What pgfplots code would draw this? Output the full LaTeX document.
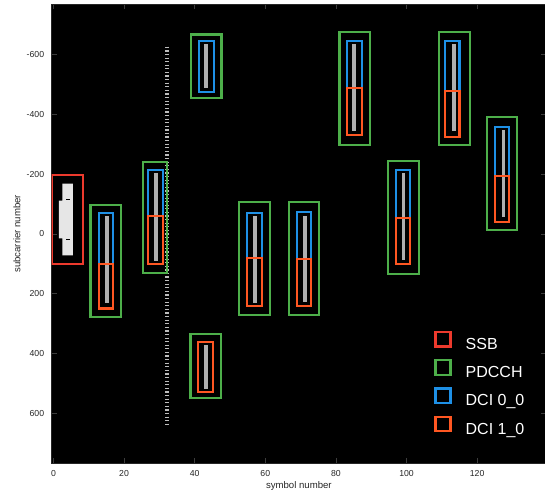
\documentclass[border=0pt]{standalone}
\usepackage{pgfplots}
\pgfplotsset{compat=1.18}
\usepackage{fontspec}
\setmainfont{Liberation Sans}
\definecolor{ssbred}{RGB}{237,58,45}
\definecolor{pgreen}{RGB}{77,175,74}
\definecolor{dblue}{RGB}{30,144,230}
\definecolor{dorange}{RGB}{255,87,34}
\definecolor{bargray}{RGB}{175,175,175}
\definecolor{ssbwhite}{RGB}{230,230,230}
\definecolor{dotgray}{RGB}{190,190,190}
\definecolor{labgray}{RGB}{38,38,38}
\definecolor{tickgray}{RGB}{60,60,60}
\begin{document}
\begin{tikzpicture}
\begin{axis}[
  at={(0pt,0pt)}, anchor=south west,
  scale only axis, width=494.3pt, height=459pt,
  xmin=-0.5, xmax=139.5, ymin=-768, ymax=768, y dir=reverse,
  axis background/.style={fill=black},
  xtick={0,20,...,120}, ytick={-600,-400,...,600},
  tick align=inside, major tick length=5pt,
  tick style={color=tickgray, line width=0.5pt},
  axis line style={color=labgray, line width=0.6pt},
  tick label style={font=\fontsize{8.7}{10}\selectfont, text=labgray},
  yticklabel style={inner sep=0pt, xshift=-7.4pt},
  xticklabel style={inner sep=0pt, yshift=-6.5pt},
  /pgf/number format/assume math mode=true,
  xlabel={symbol number}, ylabel={subcarrier number},
  label style={font=\fontsize{9.6}{11}\selectfont, text=labgray},
  xlabel style={at={(axis description cs:0.5,-0.0501)}, anchor=center},
  ylabel style={at={(axis description cs:-0.0702,0.5)}, anchor=center},
  legend image code/.code={\draw[#1, line width=2.2pt] (0pt,-1.5pt) rectangle (15pt,13pt);},
  legend style={at={(0.7744,0.2885)}, anchor=north west, draw=none, fill=none,
    inner sep=0pt, outer sep=0pt, row sep=7.3pt,
    font=\fontsize{16}{19}\selectfont, text=white,
    nodes={inner sep=0pt, text depth=2.6pt},
    /tikz/every odd column/.append style={column sep=14pt}},
  legend cell align=left,
  line join=miter,
]
% SSB
\addplot[fill=ssbwhite, draw=none, forget plot] coordinates {(2.5,-168) (5.5,-168) (5.5,72) (2.5,72) (2.5,15) (1.5,15) (1.5,-111) (2.5,-111)} -- cycle;
\addplot[fill=black, draw=none, forget plot] coordinates {(3.6,-118) (4.6,-118) (4.6,-112) (3.6,-112)} -- cycle;
\addplot[fill=black, draw=none, forget plot] coordinates {(3.6,16) (4.6,16) (4.6,22) (3.6,22)} -- cycle;
% dotted column
\addplot[draw=dotgray, line width=3.5pt, dash pattern=on 1.2pt off 2.39pt, forget plot] coordinates {(32.1,-626) (32.1,638)};
% gray bars
\addplot[fill=bargray, draw=none, forget plot] coordinates {(14.7,-59) (15.7,-59) (15.7,230) (14.7,230)} -- cycle;
\addplot[fill=bargray, draw=none, forget plot] coordinates {(28.5,-202) (29.6,-202) (29.6,90) (28.5,90)} -- cycle;
\addplot[fill=bargray, draw=none, forget plot] coordinates {(42.6,-634) (43.7,-634) (43.7,-487) (42.6,-487)} -- cycle;
\addplot[fill=bargray, draw=none, forget plot] coordinates {(42.6,373) (43.7,373) (43.7,519) (42.6,519)} -- cycle;
\addplot[fill=bargray, draw=none, forget plot] coordinates {(56.5,-58) (57.6,-58) (57.6,230) (56.5,230)} -- cycle;
\addplot[fill=bargray, draw=none, forget plot] coordinates {(70.6,-58) (71.7,-58) (71.7,229) (70.6,229)} -- cycle;
\addplot[fill=bargray, draw=none, forget plot] coordinates {(84.6,-634) (85.7,-634) (85.7,-345) (84.6,-345)} -- cycle;
\addplot[fill=bargray, draw=none, forget plot] coordinates {(98.6,-204) (99.7,-204) (99.7,86) (98.6,86)} -- cycle;
\addplot[fill=bargray, draw=none, forget plot] coordinates {(112.9,-635) (114.0,-635) (114.0,-345) (112.9,-345)} -- cycle;
\addplot[fill=bargray, draw=none, forget plot] coordinates {(126.9,-346) (128.0,-346) (128.0,-57) (126.9,-57)} -- cycle;
% SSB box
\addplot[draw=ssbred, line width=2.1pt, forget plot] coordinates {(-0.3,-197) (8.3,-197) (8.3,101) (-0.3,101)} -- cycle;
% PDCCH boxes
\addplot[draw=pgreen, line width=2.1pt, forget plot] coordinates {(10.5,-97) (19.2,-97) (19.2,278) (10.5,278)} -- cycle;
\addplot[draw=pgreen, line width=2.1pt, forget plot] coordinates {(25.4,-241) (32.1,-241) (32.1,131) (25.4,131)} -- cycle;
\addplot[draw=pgreen, line width=2.1pt, forget plot] coordinates {(38.9,-667) (47.6,-667) (47.6,-454) (38.9,-454)} -- cycle;
\addplot[draw=pgreen, line width=2.1pt, forget plot] coordinates {(38.8,335) (47.5,335) (47.5,548) (38.8,548)} -- cycle;
\addplot[draw=pgreen, line width=2.1pt, forget plot] coordinates {(52.5,-105) (61.3,-105) (61.3,273) (52.5,273)} -- cycle;
\addplot[draw=pgreen, line width=2.1pt, forget plot] coordinates {(66.6,-105) (75.1,-105) (75.1,273) (66.6,273)} -- cycle;
\addplot[draw=pgreen, line width=2.1pt, forget plot] coordinates {(81.0,-674) (89.7,-674) (89.7,-298) (81.0,-298)} -- cycle;
\addplot[draw=pgreen, line width=2.1pt, forget plot] coordinates {(94.8,-244) (103.6,-244) (103.6,134) (94.8,134)} -- cycle;
\addplot[draw=pgreen, line width=2.1pt, forget plot] coordinates {(109.2,-674) (117.9,-674) (117.9,-298) (109.2,-298)} -- cycle;
\addplot[draw=pgreen, line width=2.1pt, forget plot] coordinates {(122.9,-391) (131.4,-391) (131.4,-14) (122.9,-14)} -- cycle;
% DCI 0_0 boxes
\addplot[draw=dblue, line width=2.1pt, forget plot] coordinates {(13.0,-70) (16.9,-70) (16.9,101) (13.0,101)} -- cycle;
\addplot[draw=dblue, line width=2.1pt, forget plot] coordinates {(26.9,-215) (31.0,-215) (31.0,-60) (26.9,-60)} -- cycle;
\addplot[draw=dblue, line width=2.1pt, forget plot] coordinates {(41.3,-645) (45.4,-645) (45.4,-474) (41.3,-474)} -- cycle;
\addplot[draw=dblue, line width=2.1pt, forget plot] coordinates {(54.9,-69) (59.0,-69) (59.0,80) (54.9,80)} -- cycle;
\addplot[draw=dblue, line width=2.1pt, forget plot] coordinates {(69.1,-72) (73.0,-72) (73.0,85) (69.1,85)} -- cycle;
\addplot[draw=dblue, line width=2.1pt, forget plot] coordinates {(83.2,-644) (87.3,-644) (87.3,-489) (83.2,-489)} -- cycle;
\addplot[draw=dblue, line width=2.1pt, forget plot] coordinates {(97.0,-215) (100.9,-215) (100.9,-52) (97.0,-52)} -- cycle;
\addplot[draw=dblue, line width=2.1pt, forget plot] coordinates {(111.0,-646) (115.0,-646) (115.0,-478) (111.0,-478)} -- cycle;
\addplot[draw=dblue, line width=2.1pt, forget plot] coordinates {(125.0,-358) (129.1,-358) (129.1,-194) (125.0,-194)} -- cycle;
% DCI 1_0 boxes
\addplot[draw=dorange, line width=2.1pt, forget plot] coordinates {(13.0,101) (16.9,101) (16.9,250) (13.0,250)} -- cycle;
\addplot[draw=dorange, line width=2.1pt, forget plot] coordinates {(26.9,-60) (31.0,-60) (31.0,102) (26.9,102)} -- cycle;
\addplot[draw=dorange, line width=2.1pt, forget plot] coordinates {(41.0,361) (45.1,361) (45.1,529) (41.0,529)} -- cycle;
\addplot[draw=dorange, line width=2.1pt, forget plot] coordinates {(54.9,80) (59.0,80) (59.0,242) (54.9,242)} -- cycle;
\addplot[draw=dorange, line width=2.1pt, forget plot] coordinates {(69.1,85) (73.0,85) (73.0,243) (69.1,243)} -- cycle;
\addplot[draw=dorange, line width=2.1pt, forget plot] coordinates {(83.2,-489) (87.3,-489) (87.3,-331) (83.2,-331)} -- cycle;
\addplot[draw=dorange, line width=2.1pt, forget plot] coordinates {(97.0,-52) (100.9,-52) (100.9,102) (97.0,102)} -- cycle;
\addplot[draw=dorange, line width=2.1pt, forget plot] coordinates {(111.0,-478) (115.0,-478) (115.0,-324) (111.0,-324)} -- cycle;
\addplot[draw=dorange, line width=2.1pt, forget plot] coordinates {(125.0,-194) (129.1,-194) (129.1,-40) (125.0,-40)} -- cycle;
% legend
\addlegendimage{draw=ssbred}
\addlegendentry{SSB}
\addlegendimage{draw=pgreen}
\addlegendentry{PDCCH}
\addlegendimage{draw=dblue}
\addlegendentry{DCI 0\_0}
\addlegendimage{draw=dorange}
\addlegendentry{DCI 1\_0}
\end{axis}
\pgfresetboundingbox
\path[use as bounding box] (-51.7pt,-31.7pt) rectangle (493.3pt,463.3pt);
\end{tikzpicture}
\end{document}
